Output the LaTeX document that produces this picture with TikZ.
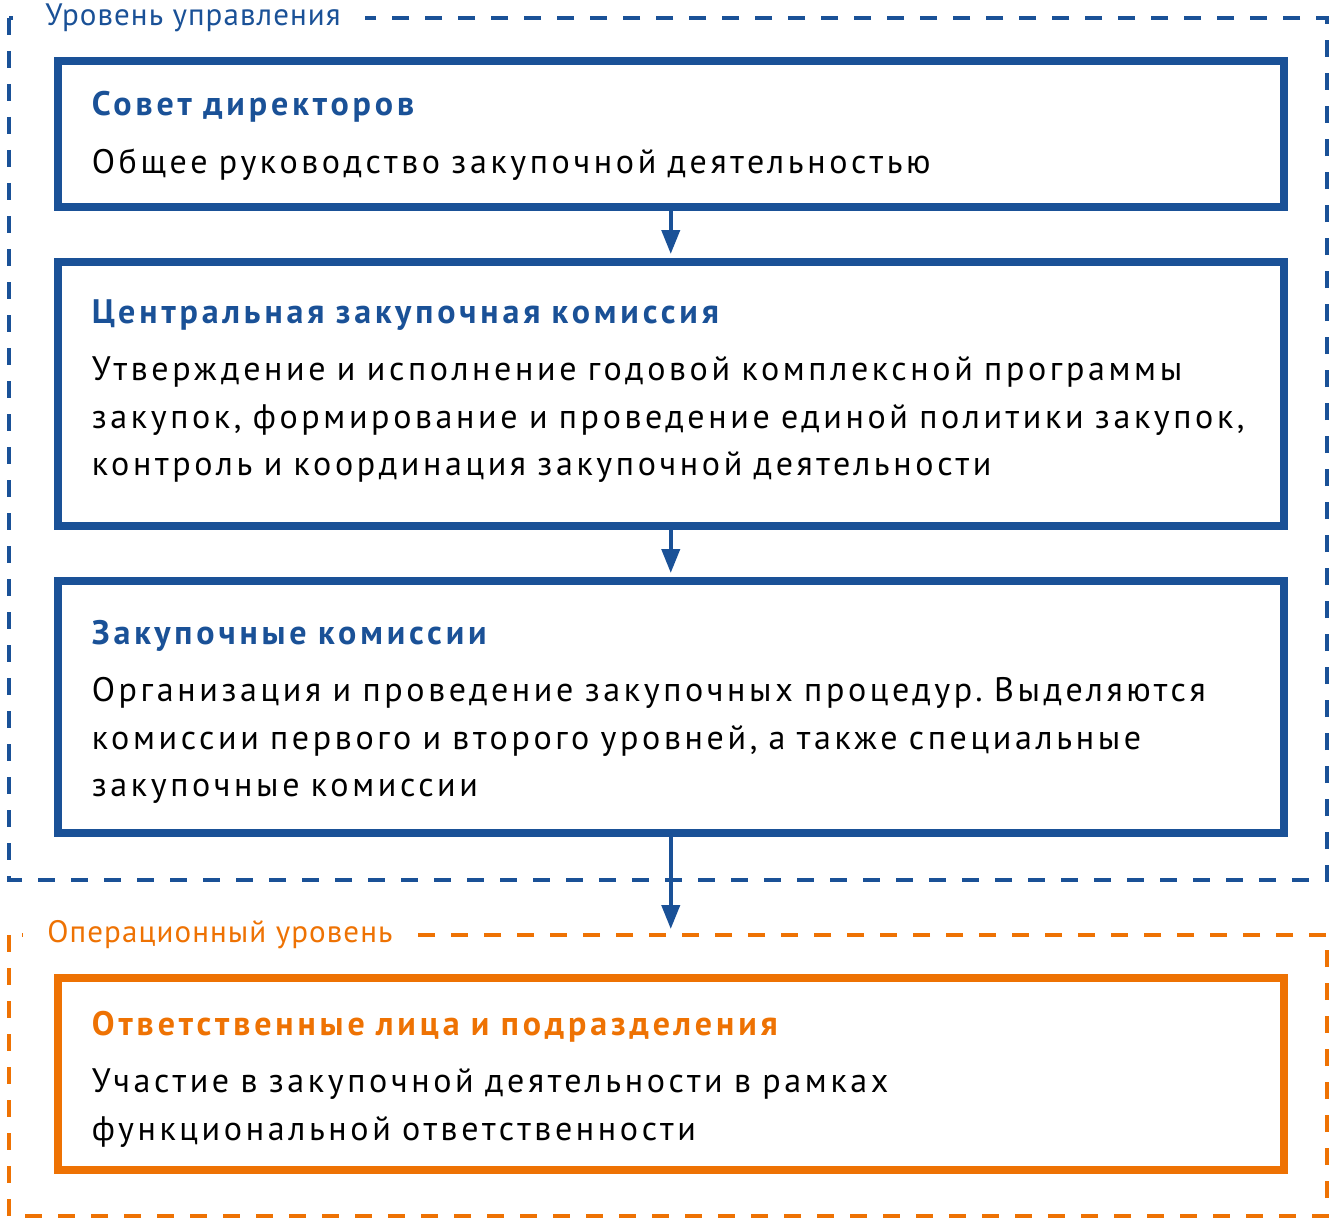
\documentclass[tikz,border=0pt]{standalone}
\usepackage{fontspec}
\setmainfont{PT Sans}
\frenchspacing
\usetikzlibrary{arrows.meta,calc}
\definecolor{lvlblue}{HTML}{1A5197}
\definecolor{lvlorange}{HTML}{EE7203}
\newcommand{\headblue}[1]{{\bfseries\addfontfeature{LetterSpace=11.4}\color{lvlblue}#1}}
\newcommand{\headorange}[1]{{\bfseries\addfontfeature{LetterSpace=11.4}\color{lvlorange}#1}}
\tikzset{
  unitbox/.style={draw=#1, line width=4pt, minimum width=613.25pt, text width=579pt,
    align=left, inner xsep=17pt, inner ysep=0pt, text height=12pt,
    font=\fontsize{17}{23.75}\selectfont\addfontfeature{LetterSpace=10.7}},
  levelframe/.style={draw=#1, line width=1.75pt, dash pattern=on 8.5pt off 8pt},
  levellabel/.style={fill=white, text=#1, anchor=west, inner xsep=12pt,
    font=\fontsize{15.5}{18}\selectfont\addfontfeature{LetterSpace=3.5}},
  flow/.style={draw=lvlblue, line width=2pt, -{Triangle[width=9pt,length=12pt]}, shorten >=2pt}
}
\begin{document}
\begin{tikzpicture}[x=0.5pt, y=-0.5pt]
			%%%%% START %%%%%
			\useasboundingbox (0, 0) rectangle (1336, 1225);
			
			\draw[levelframe=lvlblue] (9, 18) rectangle (1327, 880);
			\node[levellabel=lvlblue] (upr) at (21, 18) {Уровень управления};
			
			\draw[levelframe=lvlorange] (9, 935) rectangle (1327, 1216);
			\node[levellabel=lvlorange] (oper) at (23, 935) {Операционный уровень};
			\coordinate (opertop) at (670.75, 935);
			
			\node[unitbox=lvlblue, minimum height=73pt, text depth=30pt] (sovet) at (670.75, 134)
			  {\headblue{Совет директоров}\\[5pt]
			   Общее руководство закупочной деятельностью};
			
			\node[unitbox=lvlblue, minimum height=132pt, text depth=83pt] (czk) at (670.75, 394)
			  {\headblue{Центральная закупочная комиссия}\\[5pt]
			   Утверждение и исполнение годовой комплексной программы\\
			   закупок, формирование и проведение единой политики закупок,\\
			   контроль и координация закупочной деятельности};
			
			\node[unitbox=lvlblue, minimum height=126pt, text depth=75pt] (zk) at (670.75, 707)
			  {\headblue{Закупочные комиссии}\\[5pt]
			   Организация и проведение закупочных процедур. Выделяются\\
			   комиссии первого и второго уровней, а также специальные\\
			   закупочные комиссии};
			
			\node[unitbox=lvlorange, minimum height=96pt, text depth=51pt] (otv) at (670.75, 1074)
			  {\headorange{Ответственные лица и подразделения}\\[5pt]
			   Участие в закупочной деятельности в рамках\\
			   функциональной ответственности};
			
			\draw[flow] (sovet.south) -- (czk.north);
			\draw[flow] (czk.south) -- (zk.north);
			\draw[flow, shorten >=3pt] (zk.south) -- (opertop);
			
			%%%%% END %%%%%
\end{tikzpicture}
\end{document}
